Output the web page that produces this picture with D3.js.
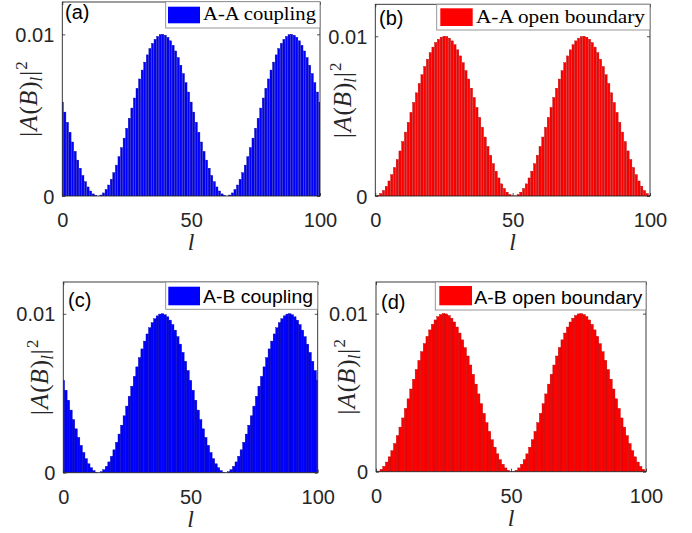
<!DOCTYPE html>
<html>
<head>
<meta charset="utf-8">
<script src="https://cdn.jsdelivr.net/npm/d3@7/dist/d3.min.js"></script>
<style>
  html, body { margin: 0; padding: 0; background: #fff; }
  svg { display: block; }
</style>
</head>
<body>
<svg id="chart" width="692" height="533"></svg>
<script>
// ---------- data ----------
const sites = d3.range(0, 101); // l = 0..100

const aaCoupling = [
  0.00581,0.00519,0.00456,0.00394,0.00334,0.00276,0.00222,0.00172,0.00127,0.00088,
  0.00056,0.00031,0.00013,0.00003,0.00000,0.00006,0.00019,0.00040,0.00068,0.00103,
  0.00144,0.00191,0.00243,0.00299,0.00358,0.00419,0.00481,0.00544,0.00606,0.00666,
  0.00724,0.00779,0.00828,0.00873,0.00912,0.00944,0.00969,0.00987,0.00998,0.01000,
  0.00994,0.00981,0.00960,0.00932,0.00897,0.00856,0.00809,0.00757,0.00701,0.00643,
  0.00581,0.00519,0.00456,0.00394,0.00334,0.00276,0.00222,0.00172,0.00127,0.00088,
  0.00056,0.00031,0.00013,0.00003,0.00000,0.00006,0.00019,0.00040,0.00068,0.00103,
  0.00144,0.00191,0.00243,0.00299,0.00358,0.00419,0.00481,0.00544,0.00606,0.00666,
  0.00724,0.00779,0.00828,0.00873,0.00912,0.00944,0.00969,0.00987,0.00998,0.01000,
  0.00994,0.00981,0.00960,0.00932,0.00897,0.00856,0.00809,0.00757,0.00701,0.00643,
  0.00581
];

const aaOpen = [
  0.00000,0.00004,0.00015,0.00034,0.00061,0.00094,0.00133,0.00178,0.00228,0.00282,
  0.00340,0.00400,0.00461,0.00523,0.00585,0.00646,0.00704,0.00759,0.00810,0.00856,
  0.00897,0.00932,0.00960,0.00981,0.00994,0.01000,0.00998,0.00988,0.00971,0.00947,
  0.00915,0.00877,0.00834,0.00785,0.00732,0.00675,0.00616,0.00554,0.00492,0.00430,
  0.00369,0.00310,0.00255,0.00202,0.00155,0.00113,0.00076,0.00047,0.00024,0.00009,
  0.00001,0.00001,0.00009,0.00024,0.00047,0.00076,0.00113,0.00155,0.00202,0.00255,
  0.00310,0.00369,0.00430,0.00492,0.00554,0.00616,0.00675,0.00732,0.00785,0.00834,
  0.00877,0.00915,0.00947,0.00971,0.00988,0.00998,0.01000,0.00994,0.00981,0.00960,
  0.00932,0.00897,0.00856,0.00810,0.00759,0.00704,0.00646,0.00585,0.00523,0.00461,
  0.00400,0.00340,0.00282,0.00228,0.00178,0.00133,0.00094,0.00061,0.00034,0.00015,
  0.00004
];

const abCoupling = aaCoupling.slice();
const abOpen = aaOpen.slice();

const xTicks = [0, 50, 100];
const yTicks = [0, 0.01];
const yTickLabels = ["0", "0.01"];
const panelLetters = ["(a)", "(b)", "(c)", "(d)"];
const legendLabels = ["A-A coupling", "A-A open boundary", "A-B coupling", "A-B open boundary"];

// ---------- layout ----------
const panels = [
  { data: aaCoupling, color: "#0000ff", edge: "#0000a8", barW: 0.8,
    box: [62.3, 320, 2, 196], ylabX: 37, letter: [65, 19],
    leg: { box: [165.7, 1.7, 154.3, 26.3], sym: [168, 6.7, 32, 16.6], tx: 203, ty: 19.5, tw: 113,
           font: "'Liberation Serif','DejaVu Serif',serif", size: 18 } },
  { data: aaOpen, color: "#ff0000", edge: "#b40000", barW: 0.8,
    box: [375.3, 650, 4.3, 196], ylabX: 351, letter: [379, 25],
    leg: { box: [436.7, 4.3, 213.3, 25.7], sym: [440.3, 8.3, 32.4, 17.7], tx: 476, ty: 22.5, tw: 169,
           font: "'Liberation Serif','DejaVu Serif',serif", size: 18 } },
  { data: abCoupling, color: "#0000ff", edge: "#0000a8", barW: 1.0,
    box: [63.3, 317.7, 282, 472.7], ylabX: 48, letter: [68, 307],
    leg: { box: [165.7, 282, 152, 27.3], sym: [168.3, 286.7, 31.7, 18.6], tx: 203, ty: 303, tw: 110,
           font: "'Liberation Sans',Arial,sans-serif", size: 19 } },
  { data: abOpen, color: "#ff0000", edge: "#b40000", barW: 1.0,
    box: [376, 646, 282, 471.7], ylabX: 355, letter: [381, 309],
    leg: { box: [435.3, 282, 210.7, 28], sym: [439.3, 286, 32.7, 19.3], tx: 474.3, ty: 304, tw: 168,
           font: "'Liberation Sans',Arial,sans-serif", size: 19 } }
];

const svg = d3.select("#chart");
const axisColor = "#262626";
const sansFont = "'Liberation Sans',Arial,Helvetica,sans-serif";
const serifFont = "'Liberation Serif','DejaVu Serif','Times New Roman',serif";

panels.forEach((p, i) => {
  const [x0, x1, y0, y1] = p.box;
  const x = d3.scaleLinear().domain([0, 100]).range([x0, x1]);
  const y = d3.scaleLinear().domain([0, 0.012]).range([y1, y0]);

  const g = svg.append("g");
  const clipId = "clip" + i;
  svg.append("clipPath").attr("id", clipId)
    .append("rect").attr("x", x0).attr("y", y0).attr("width", x1 - x0).attr("height", y1 - y0);

  // bars
  g.append("g").attr("clip-path", `url(#${clipId})`)
    .selectAll("rect")
    .data(sites)
    .join("rect")
    .attr("x", l => x(l - p.barW / 2))
    .attr("width", l => x(l + p.barW / 2) - x(l - p.barW / 2))
    .attr("y", l => y(p.data[l]))
    .attr("height", l => y(0) - y(p.data[l]))
    .attr("fill", p.color)
    .attr("stroke", p.edge)
    .attr("stroke-width", 0.4);

  // axes (ticks inward)
  const ax = g.append("g").attr("transform", `translate(0,${y1})`)
    .call(d3.axisBottom(x).tickValues(xTicks).tickSize(-3).tickPadding(17).tickFormat(d3.format("d")));
  const axT = g.append("g").attr("transform", `translate(0,${y0})`)
    .call(d3.axisTop(x).tickValues(xTicks).tickSize(-3).tickFormat(""));
  const ay = g.append("g").attr("transform", `translate(${x0},0)`)
    .call(d3.axisLeft(y).tickValues(yTicks).tickSize(-3).tickPadding(8)
      .tickFormat((d, k) => yTickLabels[k]));
  const ayR = g.append("g").attr("transform", `translate(${x1},0)`)
    .call(d3.axisRight(y).tickValues(yTicks).tickSize(-3).tickFormat(""));
  [ax, axT, ay, ayR].forEach(a => {
    a.select(".domain").remove();
    a.selectAll("line").attr("stroke", axisColor).attr("stroke-width", 0.8);
    a.selectAll("text").attr("fill", axisColor).style("font-family", sansFont).style("font-size", "20px");
  });
  ay.selectAll("text").attr("dy", "0.36em");

  // frame
  g.append("rect").attr("x", x0).attr("y", y0).attr("width", x1 - x0).attr("height", y1 - y0)
    .attr("fill", "none").attr("stroke", axisColor).attr("stroke-width", 0.9);

  // x label
  g.append("text").attr("x", (x0 + x1) / 2).attr("y", y1 + 54)
    .attr("text-anchor", "middle").attr("fill", axisColor)
    .style("font-family", serifFont).style("font-style", "italic").style("font-size", "24px")
    .text("l");

  // y label |A(B)_l|^2
  const yl = g.append("text")
    .attr("transform", `translate(${p.ylabX},${(y0 + y1) / 2}) rotate(-90)`)
    .attr("text-anchor", "middle").attr("fill", axisColor)
    .style("font-family", serifFont).style("font-size", "25px");
  yl.append("tspan").text("|");
  yl.append("tspan").style("font-style", "italic").attr("dx", 1).text("A");
  yl.append("tspan").attr("dx", 1).text("(");
  yl.append("tspan").style("font-style", "italic").text("B");
  yl.append("tspan").attr("dx", 1).text(")");
  yl.append("tspan").style("font-style", "italic").style("font-size", "17px").attr("dy", 5).text("l");
  yl.append("tspan").attr("dy", -5).attr("dx", 1).text("|");
  yl.append("tspan").style("font-size", "17px").attr("dy", -10).attr("dx", 1).text("2");

  // panel letter
  g.append("text").attr("x", p.letter[0]).attr("y", p.letter[1])
    .attr("fill", "#000").style("font-family", sansFont).style("font-size", "20px")
    .text(panelLetters[i]);

  // legend
  const L = p.leg;
  g.append("rect").attr("x", L.box[0]).attr("y", L.box[1]).attr("width", L.box[2]).attr("height", L.box[3])
    .attr("fill", "#fff").attr("stroke", "#8c8c8c").attr("stroke-width", 0.9);
  g.append("rect").attr("x", L.sym[0]).attr("y", L.sym[1]).attr("width", L.sym[2]).attr("height", L.sym[3])
    .attr("fill", p.color);
  g.append("text").attr("x", L.tx).attr("y", L.ty)
    .attr("textLength", L.tw).attr("lengthAdjust", "spacingAndGlyphs")
    .attr("fill", "#000").style("font-family", L.font).style("font-size", L.size + "px")
    .text(legendLabels[i]);
});
</script>
</body>
</html>
